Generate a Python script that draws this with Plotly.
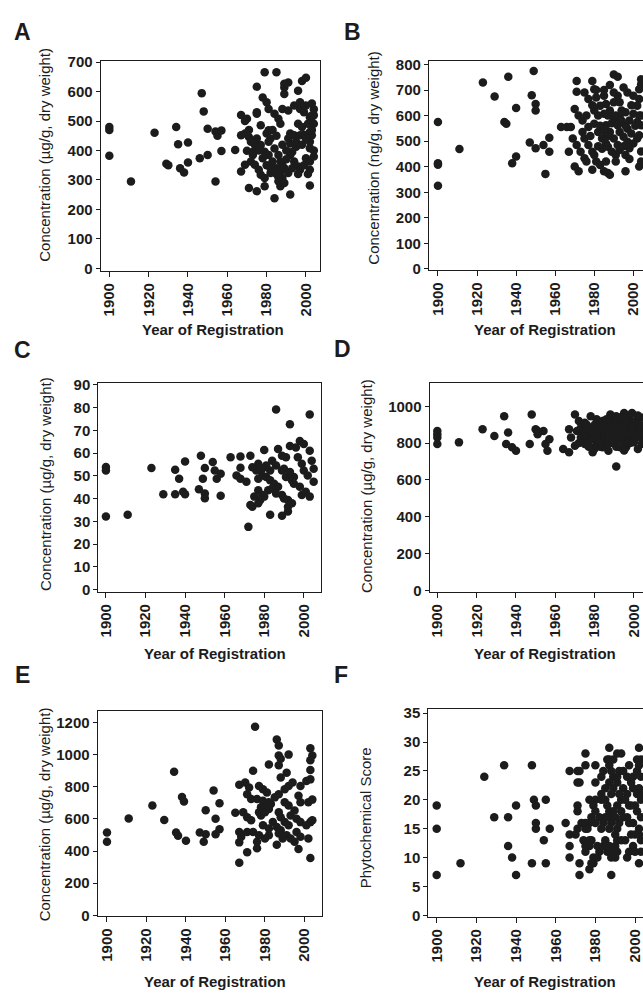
import plotly.graph_objects as go

W, H = 643, 994
FONT = "Liberation Sans, Arial, sans-serif"
INK = "#1c1c1c"

year_ticks = [1900, 1920, 1940, 1960, 1980, 2000]
year_labels = ["1900", "1920", "1940", "1960", "1980", "2000"]

# ---------------- Panel A ----------------
a_year = [1900, 1900, 1900, 1911, 1923, 1929, 1930, 1934, 1935, 1936, 1938, 1940, 1940, 1946,
          1947, 1948, 1950, 1950, 1954, 1955, 1957, 1954, 1957,
          1964, 1967, 1970, 1967, 1969, 1971, 1970, 1973, 1969, 1967, 1975, 1975, 1979, 1985,
          1971, 1975, 1979, 1984, 1987, 1992, 2002, 1991, 1989, 1998, 1996, 1989, 1978, 1980,
          1981, 1984, 1986, 1987, 1988, 1991, 1994, 1997, 1999, 2002, 2003, 1997, 2000, 1977,
          1980, 1982, 1981, 1975, 1977, 1979, 1981, 1972, 1974, 1976, 1977, 1979, 1984, 1986,
          1987, 1989, 1983, 1985, 1982, 1991, 1992, 1995, 1992, 1994, 1997, 1999, 2002, 2003,
          1992, 1994, 1996, 1997, 2000, 2002, 2002, 2002, 2002, 1987, 1988, 1986, 1991, 1989,
          1996, 1998, 2001, 1981, 1978, 1975, 1973, 2003, 2004,
          1983, 1985, 1988, 1990, 1993, 1995, 1998, 2000, 2003, 2004, 2004, 2003, 1980, 1982,
          1985, 1986, 1988, 1990, 1993, 1996, 1999, 2001, 2004, 2004, 1976, 1974, 1972, 1971,
          1969, 2000, 1989]
a_conc = [470, 480, 382, 295, 460, 355, 350, 480, 421, 340, 325, 427, 359, 374,
          595, 533, 385, 474, 465, 450, 468, 295, 398,
          402, 521, 508, 452, 458, 446, 399, 385, 352, 329, 617, 525, 666, 666,
          273, 262, 279, 238, 279, 251, 281, 631, 614, 636, 603, 592, 580, 564,
          541, 525, 508, 491, 541, 536, 553, 541, 530, 513, 497, 564, 553, 486,
          458, 441, 469, 441, 419, 396, 385, 363, 352, 335, 318, 307, 407, 385,
          363, 340, 363, 340, 324, 441, 424, 413, 458, 452, 452, 454, 463, 452,
          385, 363, 346, 335, 374, 363, 335, 430, 408, 329, 307, 296, 324, 290,
          491, 480, 491, 430, 374, 530, 396, 519, 491,
          470, 450, 420, 400, 395, 430, 420, 440, 470, 520, 540, 560, 350, 340,
          320, 310, 350, 370, 340, 320, 350, 320, 380, 400, 400, 420, 430, 470,
          500, 647, 627]
a_ticks = [0, 100, 200, 300, 400, 500, 600, 700]

# ---------------- Panel B ----------------
b_year = [1900, 1900, 1900, 1900, 1911, 1923, 1929, 1936, 1934, 1935, 1940, 1940, 1938, 1949,
          1948, 1950, 1950, 1947, 1950, 1954, 1957, 1957, 1955, 1963, 1966, 1968, 1967, 1971,
          1971, 1970, 1972, 1974, 1970, 1972, 1979, 1979, 1981, 1983, 1985, 1987, 1988, 1990,
          1992, 1996, 2003, 2004, 2004,
          1975, 1977, 1980, 1981, 1983, 1985, 1986, 1988, 1990, 1992, 1993, 1995, 1997, 1997,
          1998, 2000, 2002, 2003, 1995, 1997, 2000, 2003, 1992, 1990, 1974, 1975, 1977, 1979,
          1980, 1977, 1980, 1982, 1984, 1986, 1987, 1989, 1991, 1986, 1988, 1990, 1992, 1993,
          1996, 1998, 2000, 2002, 2003, 2004, 2004, 2002, 1999, 1969, 1971, 1973, 1975, 1976,
          1985, 1982, 1980, 1993, 1996, 1993,
          1985, 1988, 1990, 1983, 1985, 1987, 1989, 1991, 1994, 1996, 1999, 2001, 1994, 1987,
          1984, 1982, 1978, 1976, 1979, 1981, 2003, 2004, 2004, 1998, 1995, 1991, 1986]
b_conc = [575, 414, 408, 326, 469, 729, 675, 752, 575, 568, 630, 440, 414, 774,
          680, 645, 620, 495, 472, 485, 513, 459, 372, 555, 555, 555, 459, 735,
          693, 626, 600, 581, 401, 382, 735, 388, 420, 407, 382, 375, 369, 761,
          752, 382, 401, 742, 723,
          690, 665, 703, 671, 639, 607, 645, 620, 588, 562, 536, 517, 498, 549,
          581, 607, 639, 665, 710, 690, 678, 703, 678, 652, 536, 510, 485, 459,
          446, 555, 568, 536, 510, 491, 478, 459, 446, 562, 536, 510, 485, 465,
          446, 472, 491, 510, 523, 562, 600, 575, 530, 510, 485, 459, 433, 420,
          678, 600, 620, 652, 613, 594,
          700, 720, 690, 560, 540, 600, 570, 600, 580, 560, 640, 560, 620, 520,
          470, 480, 520, 600, 640, 700, 600, 460, 420, 430, 480, 420, 420]
b_ticks = [0, 100, 200, 300, 400, 500, 600, 700, 800]

# ---------------- Panel C ----------------
c_year = [1900, 1900, 1900, 1911, 1923, 1929, 1935, 1937, 1935, 1940, 1939, 1940, 1948, 1947,
          1949, 1950, 1950, 1950, 1954, 1955, 1956, 1958, 1958, 1963,
          1968, 1966, 1968, 1971, 1968, 1973, 1974, 1976, 1980, 1984, 1986, 1989, 1991, 1994,
          1987, 1989, 1991, 1993, 1996, 1998, 2000, 2003, 2004, 2005, 2002, 2005, 1997, 1999,
          2000, 1979, 1981, 1983, 1985, 1987, 1977, 1979, 1980, 1975, 1978, 1973, 1974, 1977,
          1989, 1990, 1992, 1992, 1999, 2001, 2003, 1995, 1998, 1995, 1983, 1981, 1990, 1993,
          1982, 1984, 1986, 1992, 1994, 1977, 1977, 1979,
          1972, 1986, 2003, 1993, 1983, 1989]
c_conc = [53.9, 52.4, 32.2, 32.9, 53.5, 41.9, 52.7, 48.8, 41.9, 56.3, 43.0, 41.9, 58.9, 44.1,
          48.8, 53.5, 42.3, 40.2, 56.1, 52.4, 48.8, 51.0, 41.3, 58.2,
          58.5, 50.2, 48.8, 47.4, 53.6, 58.9, 53.8, 52.4, 61.4, 56.7, 54.6, 52.4, 49.5, 48.1,
          61.8, 58.9, 58.2, 63.2, 62.5, 65.4, 64.0, 61.1, 56.7, 53.1, 50.2, 47.4, 58.2, 55.3,
          52.4, 50.2, 49.5, 48.1, 46.6, 45.2, 43.7, 41.6, 40.9, 40.9, 39.4, 37.2, 36.5, 38.0,
          41.6, 40.1, 36.5, 34.4, 41.6, 43.0, 40.9, 46.6, 45.2, 49.5, 52.4, 54.6, 53.1, 51.7,
          43.7, 44.5, 42.3, 39.4, 38.0, 48.8, 55.3, 53.1,
          27.6, 79.2, 77.0, 72.7, 32.9, 32.5]
c_ticks = [0, 10, 20, 30, 40, 50, 60, 70, 80, 90]

# ---------------- Panel D ----------------
d_year = [1900, 1900, 1900, 1900, 1911, 1923, 1929, 1934, 1936, 1935, 1938, 1940, 1947, 1948,
          1950, 1951, 1951, 1954, 1955, 1956, 1957, 1964, 1967, 1970, 1972, 1967, 1968, 1970,
          1991,
          1973, 1974, 1976, 1978, 1979, 1975, 1978, 1980, 1983, 1984, 1987, 1988, 1989, 1991,
          1993, 1995, 1996, 1998, 2000, 2001, 2003, 2004, 2004, 1999, 1995, 1991, 1985, 1982,
          1979, 1977, 1981, 1984, 1986, 1989, 1990, 1993, 1997, 2000, 2002, 1973, 1971, 1989,
          1994, 1996, 1999, 1986, 1984, 1981, 1978,
          1975, 1977, 1982, 1985, 1988, 1990, 1992, 1994, 1997, 1998, 2001, 2003, 1983, 1987,
          1991, 1995, 1980, 1976, 1992, 1986,
          1972, 1974, 1976, 1977, 1978, 1979, 1980, 1981, 1982, 1983, 1984, 1985, 1986, 1987,
          1988, 1989, 1990, 1991, 1992, 1993, 1994, 1995, 1996, 1997, 1998, 1999, 2000, 2001,
          2002, 2003, 2004, 1975, 1986, 1992, 2002, 1996]
d_conc = [866, 848, 830, 795, 804, 875, 839, 946, 857, 795, 777, 759, 795, 955,
          875, 848, 866, 866, 795, 759, 821, 768, 750, 955, 920, 875, 830, 786,
          673,
          884, 848, 813, 777, 750, 911, 884, 857, 830, 795, 759, 955, 920, 884,
          848, 813, 777, 929, 902, 866, 830, 795, 938, 964, 964, 946, 920, 902,
          884, 848, 804, 777, 813, 839, 804, 777, 830, 804, 768, 830, 866, 902,
          911, 884, 866, 875, 857, 929, 946,
          795, 820, 860, 840, 870, 850, 820, 860, 800, 840, 830, 870, 780, 800,
          780, 760, 770, 860, 900, 900,
          800, 870, 900, 780, 820, 860, 900, 840, 800, 880, 920, 860, 780, 840,
          890, 800, 870, 910, 860, 880, 830, 890, 850, 920, 800, 890, 860, 920,
          850, 900, 860, 840, 930, 940, 950, 940]
d_ticks = [0, 200, 400, 600, 800, 1000]

# ---------------- Panel E ----------------
e_year = [1900, 1900, 1911, 1923, 1929, 1934, 1935, 1936, 1938, 1939, 1940, 1947, 1949, 1950,
          1950, 1954, 1955, 1955, 1957, 1957, 1965, 1967, 1967, 1967, 1971, 1974, 1975, 1976,
          1986, 1987, 1987, 1988, 1987, 1992, 2003, 2004, 2003, 2003, 2004, 2003, 1997, 1986,
          1970, 1972, 1971, 1973, 1969, 1971, 1973, 1967, 1968, 1971, 1974, 1977, 1979, 1981,
          1982, 1977, 1978, 1981, 1983, 1976, 1979, 1982, 1978, 1980, 1982, 1985, 1987, 1990,
          1992, 1994, 1988, 1991, 1990, 1992, 1995, 1987, 1988, 1990, 1992, 1984, 1986, 1988,
          1991, 1993, 1996, 1998, 2001, 2003, 1997, 1998, 2002, 1998, 2001, 2003, 1996, 1998,
          2002, 2004, 1993, 1995, 1980, 1982, 1976, 1987, 1989, 1979, 1982, 1977]
e_conc = [515, 458, 603, 683, 593, 893, 515, 495, 736, 709, 464, 515, 458, 505,
          654, 777, 601, 505, 697, 536, 638, 812, 454, 327, 392, 899, 1173, 417,
          1094, 1057, 995, 975, 934, 1000, 1040, 995, 965, 904, 720, 356, 413, 439,
          826, 795, 754, 724, 642, 611, 591, 519, 489, 519, 519, 805, 785, 765,
          938, 642, 673, 683, 693, 724, 713, 703, 621, 642, 662, 734, 754, 785,
          805, 826, 857, 887, 703, 683, 652, 642, 611, 581, 560, 581, 550, 529,
          499, 621, 601, 580, 560, 580, 744, 703, 703, 805, 836, 846, 519, 489,
          478, 591, 478, 458, 478, 499, 458, 509, 478, 560, 540, 499]
e_ticks = [0, 200, 400, 600, 800, 1000, 1200]

# ---------------- Panel F ----------------
f_year = [1900, 1900, 1900, 1912, 1924, 1929, 1934, 1936, 1936, 1938, 1940, 1940, 1948, 1948,
          1949, 1950, 1950, 1950, 1955, 1954, 1955, 1957, 1965, 1967, 1971, 1972, 1967, 1967,
          1971, 1971, 1971, 1972, 1972, 1972, 1975, 1975, 1980, 1987, 1988, 1977, 1979, 1980,
          1986, 1987, 1991, 1993, 2002,
          1989, 2001, 2003, 1987, 1997, 2001, 1992, 1983, 1989, 1996, 2003, 1987, 1991, 1998,
          1985, 1989, 1994, 1999, 2002, 1988, 1996, 2001, 1977, 1980, 1983, 1985, 1993, 2003,
          1991, 1997, 2000, 1979, 1987, 1989, 1982, 1987, 1994, 2003, 1973, 1977, 1980, 1984,
          1988, 1992, 1997, 1999, 1971, 1975, 1983, 1987, 1991, 2002, 1967, 1970, 2002, 1974,
          1977, 1985, 1991, 1995, 2003, 1975, 1977, 1987, 1990, 1999, 1975, 1982, 1989, 1991,
          1997, 2003, 1979, 1981, 1988, 1990, 1978, 2002,
          1975, 1976, 1978, 1978, 1980, 1981, 1983, 1984, 1985, 1986, 1988, 1990, 1991, 1992,
          1993, 1994, 1995, 1996, 1998, 1999, 2000, 2001, 2002, 2003, 1984, 1986, 1990, 1993,
          1996, 1998, 2000]
f_score = [19, 15, 7, 9, 24, 17, 26, 17, 12, 10, 19, 7, 9, 26,
           20, 19, 16, 15, 20, 13, 9, 15, 16, 25, 25, 25, 12, 10,
           19, 18, 23, 23, 9, 7, 28, 26, 26, 29, 7, 8, 9, 23,
           27, 27, 28, 28, 29,
           27, 27, 27, 26, 26, 25, 25, 24, 24, 24, 24, 23, 23, 23,
           22, 22, 22, 22, 22, 21, 21, 21, 20, 20, 20, 20, 20, 20,
           19, 19, 19, 19, 18, 18, 17, 17, 17, 17, 16, 16, 16, 16,
           16, 16, 16, 16, 15, 15, 15, 15, 15, 15, 14, 14, 14, 13,
           13, 13, 13, 13, 13, 12, 12, 12, 12, 12, 11, 11, 11, 11,
           11, 11, 10, 10, 10, 10, 9, 9,
           16, 15, 13, 17, 18, 12, 21, 25, 17, 19, 25, 17, 24, 21,
           18, 25, 20, 17, 19, 24, 14, 18, 26, 21, 12, 11, 14, 13,
           10, 14, 11]
f_ticks = [0, 5, 10, 15, 20, 25, 30, 35]

CONC_UG = "Concentration (\u00b5g/g, dry weight)"
CONC_NG = "Concentration (ng/g, dry weight)"

# panel geometry (pixels): left, right, top, bottom; axis ranges
panels = [
    dict(key="A", x=a_year, y=a_conc, ticks=a_ticks, px=(99, 319.3, 54.3, 267.7),
         xr=(1895.6, 2007.3), yr=(-9, 705.7), right_line=True,
         ytitle=CONC_UG, yt_pos=(43, 150), xt_pos=(212, 327), lab_pos=(10, 25)),
    dict(key="B", x=b_year, y=b_conc, ticks=b_ticks, px=(428.3, 643, 54.3, 267),
         xr=(1895.4, 2004.95), yr=(-5, 815.4), right_line=False,
         ytitle=CONC_NG, yt_pos=(373, 153), xt_pos=(545, 327), lab_pos=(341, 25)),
    dict(key="C", x=c_year, y=c_conc, ticks=c_ticks, px=(96.7, 320, 381.7, 593.3),
         xr=(1896.2, 2008.7), yr=(-1.0, 90.7), right_line=True,
         ytitle=CONC_UG, yt_pos=(43, 484), xt_pos=(214, 656), lab_pos=(10, 348)),
    dict(key="D", x=d_year, y=d_conc, ticks=d_ticks, px=(429, 643, 381.7, 593.3),
         xr=(1896.1, 2004.6), yr=(-8.6, 1124.8), right_line=False,
         ytitle=CONC_UG, yt_pos=(365, 486), xt_pos=(545, 656), lab_pos=(331, 347)),
    dict(key="E", x=e_year, y=e_conc, ticks=e_ticks, px=(96, 321, 714, 922.3),
         xr=(1895.3, 2008.9), yr=(-6.1, 1271.8), right_line=True,
         ytitle=CONC_UG, yt_pos=(43, 819), xt_pos=(214, 988), lab_pos=(11, 678)),
    dict(key="F", x=f_year, y=f_score, ticks=f_ticks, px=(427.7, 643, 712.3, 923),
         xr=(1895.8, 2004.0), yr=(-0.29, 35.68), right_line=False,
         ytitle="Phytochemical Score", yt_pos=(365, 822), xt_pos=(545, 988), lab_pos=(331, 678)),
]

fig = go.Figure()
annotations = []
layout_axes = {}

for i, p in enumerate(panels, start=1):
    xa = "x" if i == 1 else f"x{i}"
    ya = "y" if i == 1 else f"y{i}"
    xname = "xaxis" if i == 1 else f"xaxis{i}"
    yname = "yaxis" if i == 1 else f"yaxis{i}"
    l, r, t, b = p["px"]
    fig.add_trace(go.Scatter(
        x=p["x"], y=p["y"], mode="markers", xaxis=xa, yaxis=ya,
        marker=dict(size=8.5, color=INK, line=dict(width=0)),
        hoverinfo="x+y", showlegend=False))
    layout_axes[xname] = dict(
        domain=[l / W, min(r / W, 1.0)], anchor=ya, range=list(p["xr"]),
        tickmode="array", tickvals=year_ticks, ticktext=year_labels, tickangle=-90,
        ticks="outside", ticklen=5, tickwidth=1.2, tickcolor=INK,
        showline=True, linecolor=INK, linewidth=1.2, mirror=True,
        showgrid=False, zeroline=False,
        tickfont=dict(family=FONT, size=15, color=INK, weight="bold"))
    layout_axes[yname] = dict(
        domain=[1 - b / H, 1 - t / H], anchor=xa, range=list(p["yr"]),
        tickmode="array", tickvals=p["ticks"], ticktext=[str(v) for v in p["ticks"]],
        ticks="outside", ticklen=4, tickwidth=1.2, tickcolor=INK,
        showline=True, linecolor=INK, linewidth=1.2, mirror=p["right_line"],
        showgrid=False, zeroline=False,
        tickfont=dict(family=FONT, size=15, color=INK, weight="bold"))
    # panel letter
    annotations.append(dict(
        text=f"<b>{p['key']}</b>", xref="paper", yref="paper",
        x=p["lab_pos"][0] / W, y=1 - p["lab_pos"][1] / H, xanchor="left", yanchor="middle",
        showarrow=False, font=dict(family=FONT, size=23, color=INK)))
    # y title
    annotations.append(dict(
        text=p["ytitle"], xref="paper", yref="paper", textangle=-90,
        x=p["yt_pos"][0] / W, y=1 - p["yt_pos"][1] / H, xanchor="center", yanchor="middle",
        showarrow=False, font=dict(family=FONT, size=15, color=INK)))
    # x title
    annotations.append(dict(
        text="<b>Year of Registration</b>", xref="paper", yref="paper",
        x=p["xt_pos"][0] / W, y=1 - p["xt_pos"][1] / H, xanchor="center", yanchor="middle",
        showarrow=False, font=dict(family=FONT, size=15, color=INK)))

fig.update_layout(
    width=W, height=H, autosize=False,
    margin=dict(l=0, r=0, t=0, b=0, pad=0),
    paper_bgcolor="white", plot_bgcolor="white",
    showlegend=False, annotations=annotations, **layout_axes)

fig.write_html(
    "out.html",
    config={"displayModeBar": False},
    post_script="document.body.style.margin='0';document.body.style.overflow='hidden';")
